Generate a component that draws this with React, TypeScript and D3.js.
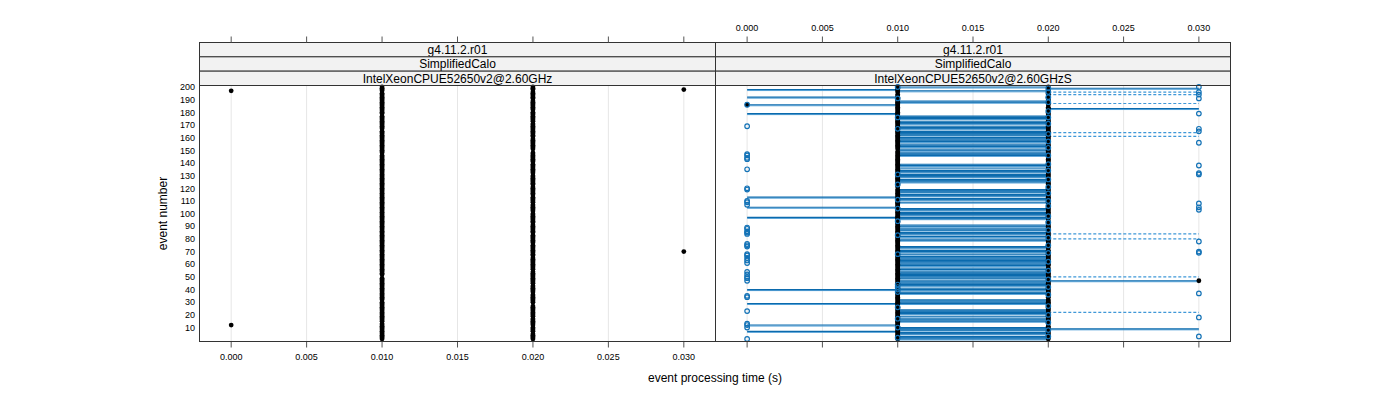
import React from 'react';
import * as d3 from 'd3';

// ---------- tick labels / strips ----------
const xTicks = [0, 0.005, 0.01, 0.015, 0.02, 0.025, 0.03];
const yTicks = [10, 20, 30, 40, 50, 60, 70, 80, 90, 100, 110, 120, 130, 140, 150, 160, 170, 180, 190, 200];
const leftStrips = ['g4.11.2.r01', 'SimplifiedCalo', 'IntelXeonCPUE52650v2@2.60GHz'];
const rightStrips = ['g4.11.2.r01', 'SimplifiedCalo', 'IntelXeonCPUE52650v2@2.60GHzS'];
const nEvents = 200;

// ---------- left panel (reference) ----------
// events with no run at 0.010 s / 0.020 s
const leftGap010 = [196, 178, 166, 147, 51, 50, 31, 14];
const leftGap020 = [197, 190, 181, 172, 160, 150, 149, 140, 131, 122, 114, 108, 101, 92, 84, 76, 66, 55, 44, 37, 29, 28, 18, 11, 6];
const leftOutlierEvents = [12, 197, 70, 198];
const leftOutlierTimes = [0.0, 0.0, 0.03, 0.03];

// ---------- right panel (comparison) ----------
const rightGap010 = [195, 150, 120];
const rightGap020 = [199, 193, 185, 170, 156, 140, 128, 110, 95, 86, 72, 58, 33, 22, 12];
const rightOutlierEvents = [186, 47];
const rightOutlierTimes = [0.0, 0.03];

// segments 0.000 -> 0.010 (solid)
const seg000to010 = [198, 192, 186, 179, 113, 105, 97, 40, 29, 12, 7];
// segments 0.010 -> 0.020 (solid)
const seg010to020 = [200, 197, 189, 188, 177, 176, 175, 173, 172, 171, 169, 168, 167, 165, 164, 163, 162, 160, 159, 158, 157, 155, 154, 153, 151, 150, 148, 147, 146, 139, 138, 136, 134, 133, 131, 130, 129, 127, 126, 125, 119, 118, 117, 115, 114, 112, 111, 109, 104, 103, 101, 100, 99, 97, 96, 91, 90, 88, 87, 85, 84, 82, 80, 79, 74, 73, 71, 70, 68, 66, 65, 64, 63, 62, 61, 60, 59, 57, 56, 54, 53, 52, 51, 50, 49, 47, 46, 45, 44, 43, 41, 40, 38, 37, 32, 31, 30, 29, 24, 23, 22, 21, 19, 17, 16, 15, 10, 9, 8, 6, 5, 3, 2, 1];
// segments 0.020 -> 0.030
const seg020to030Solid = [199, 183, 47, 9];
const seg020to030Dashed = [196, 194, 187, 164, 161, 84, 80, 50, 22];

// blue open circles (individual runs)
const circles000 = [186, 169, 147, 146, 144, 143, 135, 120, 119, 110, 109, 107, 89, 88, 86, 85, 84, 76, 75, 74, 68, 67, 65, 63, 61, 54, 52, 50, 49, 47, 35, 34, 23, 13, 12, 10, 1];
const circles010 = [200, 191, 176, 167, 131, 123, 111, 104, 94, 83, 68, 44, 42, 40, 38, 26, 17, 10, 2];
const circles020 = [199, 196, 192, 188, 181, 176, 171, 163, 157, 152, 146, 139, 134, 127, 121, 116, 110, 106, 98, 93, 87, 81, 75, 69, 62, 55, 48, 42, 36, 27, 20, 14, 8, 3];
const circles030 = [200, 196, 194, 191, 179, 167, 165, 156, 138, 132, 131, 108, 105, 103, 78, 70, 69, 37, 18, 3];

// ---------- layout ----------
const W = 1400;
const H = 400;
const panelTop = 85.5;
const panelBottom = 341.5;
const stripTop = 42.5;
const xDomain = [-0.0021, 0.0321];
const yDomain = [-1, 201.2];
const FONT = "'Liberation Sans', Arial, Helvetica, sans-serif";
const BORDER = '#333333';
const TICK = '#555555';
const GRID = '#e6e6e6';
const DARK_BLUE = '#0b6aad';
const LIGHT_BLUE = '#4f9ed6';
const DASH_BLUE = '#3f98d8';
const CIRCLE_BLUE = '#1372b6';

export default function App() {
  const y = d3.scaleLinear().domain(yDomain).range([panelBottom, panelTop]);
  const xL = d3.scaleLinear().domain(xDomain).range([199.5, 715.5]);
  const xR = d3.scaleLinear().domain(xDomain).range([715.5, 1230.5]);
  const events = d3.range(1, nEvents + 1);
  const fmt = d3.format('.3f');
  const stripH = (panelTop - stripTop) / 3;

  const leftDots: [number, number][] = [
    ...events.filter((e) => !leftGap010.includes(e)).map((e) => [0.01, e] as [number, number]),
    ...events.filter((e) => !leftGap020.includes(e)).map((e) => [0.02, e] as [number, number]),
    ...leftOutlierEvents.map((e, i) => [leftOutlierTimes[i], e] as [number, number]),
  ];
  const rightDots: [number, number][] = [
    ...events.filter((e) => !rightGap010.includes(e)).map((e) => [0.01, e] as [number, number]),
    ...events.filter((e) => !rightGap020.includes(e)).map((e) => [0.02, e] as [number, number]),
    ...rightOutlierEvents.map((e, i) => [rightOutlierTimes[i], e] as [number, number]),
  ];
  const solidSegs: [number, number, number][] = [
    ...seg000to010.map((e) => [0, 0.01, e] as [number, number, number]),
    ...seg010to020.map((e) => [0.01, 0.02, e] as [number, number, number]),
    ...seg020to030Solid.map((e) => [0.02, 0.03, e] as [number, number, number]),
  ];
  const circles: [number, number][] = [
    ...circles000.map((e) => [0, e] as [number, number]),
    ...circles010.map((e) => [0.01, e] as [number, number]),
    ...circles020.map((e) => [0.02, e] as [number, number]),
    ...circles030.map((e) => [0.03, e] as [number, number]),
  ];

  const panel = (x: d3.ScaleLinear<number, number>, strips: string[], key: string) => {
    const [x0, x1] = x.range();
    return (
      <g key={key}>
        {xTicks.map((t) => (
          <line key={'g' + t} x1={x(t)} x2={x(t)} y1={panelTop} y2={panelBottom} stroke={GRID} strokeWidth={1} />
        ))}
        {strips.map((s, i) => (
          <g key={'s' + i}>
            <rect x={x0} y={stripTop + i * stripH} width={x1 - x0} height={stripH} fill="#f2f2f2" stroke={BORDER} strokeWidth={1} />
            <text x={(x0 + x1) / 2} y={stripTop + i * stripH + stripH / 2 + 4.2} textAnchor="middle" fontSize={12} fontFamily={FONT} fill="#000">
              {s}
            </text>
          </g>
        ))}
        {xTicks.map((t) => (
          <line key={'tt' + t} x1={x(t)} x2={x(t)} y1={stripTop - 6} y2={stripTop} stroke={TICK} strokeWidth={1} />
        ))}
        {xTicks.map((t) => (
          <line key={'bt' + t} x1={x(t)} x2={x(t)} y1={panelBottom} y2={panelBottom + 6} stroke={TICK} strokeWidth={1} />
        ))}
      </g>
    );
  };

  return (
    <svg width={W} height={H} style={{ position: 'absolute', left: 0, top: 0, background: '#fff' }}>
      <rect x={0} y={0} width={W} height={H} fill="#fff" />
      {panel(xL, leftStrips, 'L')}
      {panel(xR, rightStrips, 'R')}

      {/* left panel points */}
      <g>
        {leftDots.map(([t, e], i) => (
          <circle key={i} cx={xL(t)} cy={y(e)} r={2.4} fill="#000" />
        ))}
      </g>

      {/* right panel segments */}
      <g>
        {solidSegs.map(([a, b, e], i) => (
          <g key={i}>
            <line x1={xR(a)} x2={xR(b)} y1={y(e) + 1} y2={y(e) + 1} stroke={LIGHT_BLUE} strokeWidth={1} />
            <line x1={xR(a)} x2={xR(b)} y1={y(e)} y2={y(e)} stroke={DARK_BLUE} strokeWidth={1.1} />
          </g>
        ))}
        {seg020to030Dashed.map((e, i) => (
          <line key={'d' + i} x1={xR(0.02)} x2={xR(0.03)} y1={y(e)} y2={y(e)} stroke={DASH_BLUE} strokeWidth={1.2} strokeDasharray="3,2" />
        ))}
      </g>
      <g>
        {rightDots.map(([t, e], i) => (
          <circle key={i} cx={xR(t)} cy={y(e)} r={2.4} fill="#000" />
        ))}
      </g>
      <g>
        {circles.map(([t, e], i) => (
          <circle key={i} cx={xR(t)} cy={y(e)} r={2.3} fill="none" stroke={CIRCLE_BLUE} strokeWidth={1.2} />
        ))}
      </g>

      {/* panel borders */}
      <rect x={199.5} y={panelTop} width={516} height={panelBottom - panelTop} fill="none" stroke={BORDER} strokeWidth={1} />
      <rect x={715.5} y={panelTop} width={515} height={panelBottom - panelTop} fill="none" stroke={BORDER} strokeWidth={1} />

      {/* y tick labels */}
      {yTicks.map((t) => (
        <text key={t} x={195} y={y(t) + 3.2} textAnchor="end" fontSize={9} fontFamily={FONT} fill="#000">
          {t}
        </text>
      ))}
      {/* bottom labels (left panel) */}
      {xTicks.map((t) => (
        <text key={'bl' + t} x={xL(t)} y={360} textAnchor="middle" fontSize={9} fontFamily={FONT} fill="#000">
          {fmt(t)}
        </text>
      ))}
      {/* top labels (right panel) */}
      {xTicks.map((t) => (
        <text key={'tl' + t} x={xR(t)} y={31} textAnchor="middle" fontSize={9} fontFamily={FONT} fill="#000">
          {fmt(t)}
        </text>
      ))}
      <text x={715} y={382} textAnchor="middle" fontSize={12} fontFamily={FONT} fill="#000">
        event processing time (s)
      </text>
      <text transform={`translate(167, ${(panelTop + panelBottom) / 2}) rotate(-90)`} textAnchor="middle" fontSize={12} fontFamily={FONT} fill="#000">
        event number
      </text>
    </svg>
  );
}
